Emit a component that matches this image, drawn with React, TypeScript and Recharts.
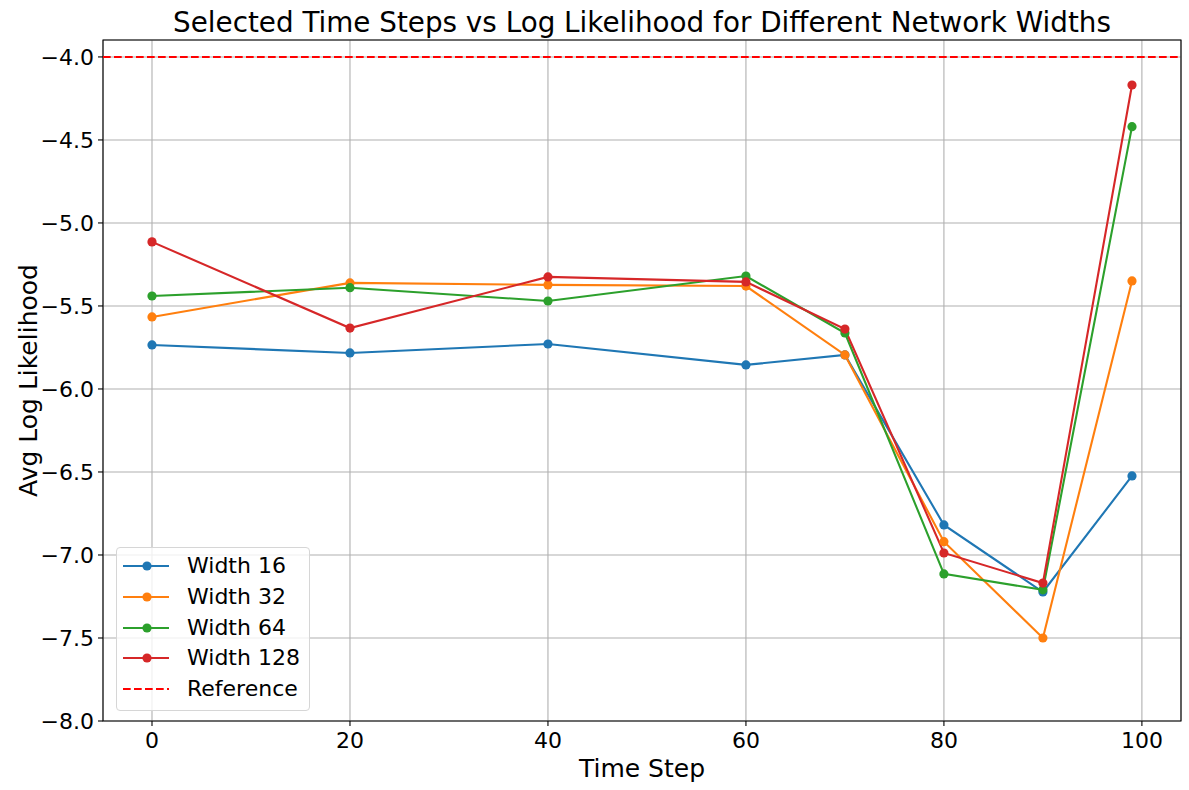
import { CartesianGrid, Line, LineChart, ReferenceArea, ReferenceLine, XAxis, YAxis } from "recharts";

const timeSteps = [0, 20, 40, 60, 70, 80, 90, 99];
const width16 = [-5.735, -5.783, -5.729, -5.855, -5.795, -6.819, -7.223, -6.524];
const width32 = [-5.566, -5.361, -5.373, -5.38, -5.795, -6.92, -7.5, -5.349];
const width64 = [-5.44, -5.39, -5.47, -5.32, -5.663, -7.114, -7.21, -4.42];
const width128 = [-5.114, -5.633, -5.325, -5.355, -5.639, -6.988, -7.169, -4.169];
const referenceValue = -4.0;

const xTicks = [0, 20, 40, 60, 80, 100];
const yTicks = [-8.0, -7.5, -7.0, -6.5, -6.0, -5.5, -5.0, -4.5, -4.0];

const series = [
  { key: "w16", name: "Width 16", color: "#1f77b4", values: width16 },
  { key: "w32", name: "Width 32", color: "#ff7f0e", values: width32 },
  { key: "w64", name: "Width 64", color: "#2ca02c", values: width64 },
  { key: "w128", name: "Width 128", color: "#d62728", values: width128 },
];

const data = timeSteps.map((t, i) => {
  const row: Record<string, number> = { t };
  series.forEach((s) => (row[s.key] = s.values[i]));
  return row;
});

const font = "DejaVu Sans, sans-serif";
const fmtY = (v: number) => v.toFixed(1).replace("-", "\u2212");

const LegendBox = () => (
  <div
    style={{
      position: "absolute",
      left: 116,
      top: 547,
      width: 192,
      height: 162,
      border: "1px solid #d6d6d6",
      borderRadius: 4,
      background: "rgba(255,255,255,0.8)",
      fontFamily: font,
      fontSize: 22,
      color: "#000",
    }}
  >
    {[...series.map((s) => ({ name: s.name, color: s.color, dash: false })), { name: "Reference", color: "#ff0000", dash: true }].map(
      (item, i) => (
        <div key={item.name} style={{ position: "absolute", left: 0, top: 6 + i * 30.8, height: 30, display: "flex", alignItems: "center" }}>
          <svg width={60} height={30} style={{ display: "block" }}>
            <line
              x1={6}
              x2={52}
              y1={12}
              y2={12}
              stroke={item.color}
              strokeWidth={2.1}
              strokeDasharray={item.dash ? "7.7 3.3" : undefined}
            />
            {!item.dash && <circle cx={30} cy={12} r={4.6} fill={item.color} />}
          </svg>
          <span style={{ marginLeft: 10, lineHeight: "24px", marginTop: -6 }}>{item.name}</span>
        </div>
      )
    )}
  </div>
);

export default function App() {
  return (
    <div style={{ position: "absolute", left: 0, top: 0, width: 1189, height: 790, background: "#fff" }}>
      <div
        style={{
          position: "absolute",
          left: 0,
          width: 1189,
          top: 6,
          textAlign: "center",
          fontFamily: font,
          fontSize: 27.8,
          paddingLeft: 95,
          boxSizing: "border-box",
        }}
      >
        Selected Time Steps vs Log Likelihood for Different Network Widths
      </div>
      <LineChart
        width={1189}
        height={790}
        data={data}
        margin={{ top: 40, right: 8, bottom: 0, left: 0 }}
        style={{ position: "absolute", left: 0, top: 0 }}
      >
        <CartesianGrid stroke="#b0b0b0" strokeWidth={1.1} />
        <XAxis
          dataKey="t"
          type="number"
          domain={[-4.95, 103.95]}
          ticks={xTicks}
          allowDataOverflow
          tickSize={5}
          tickLine={{ stroke: "#000", strokeWidth: 1.1 }}
          axisLine={false}
          tick={{ fill: "#000", fontSize: 22, fontFamily: font }}
          tickMargin={6}
          label={{ value: "Time Step", position: "insideBottom", offset: 13, fill: "#000", fontSize: 25, fontFamily: font }}
          height={69}
        />
        <YAxis
          type="number"
          domain={[-8, -3.898]}
          ticks={yTicks}
          allowDataOverflow
          tickFormatter={fmtY}
          width={103}
          tickSize={5}
          tickLine={{ stroke: "#000", strokeWidth: 1.1 }}
          axisLine={false}
          tick={{ fill: "#000", fontSize: 22, fontFamily: font }}
          tickMargin={4}
          label={{
            value: "Avg Log Likelihood",
            angle: -90,
            position: "insideLeft",
            offset: 28,
            style: { textAnchor: "middle" },
            fill: "#000",
            fontSize: 25,
            fontFamily: font,
          }}
        />
        <ReferenceLine y={referenceValue} stroke="#ff0000" strokeWidth={2.1} strokeDasharray="7.7 3.3" />
        {series.map((s) => (
          <Line
            key={s.key}
            dataKey={s.key}
            name={s.name}
            stroke={s.color}
            strokeWidth={2.1}
            dot={{ r: 4.6, fill: s.color, stroke: "none" }}
            activeDot={false}
            isAnimationActive={false}
          />
        ))}
        <ReferenceArea x1={-4.95} x2={103.95} y1={-8} y2={-3.898} fill="none" stroke="#000" strokeWidth={1.1} ifOverflow="visible" />
      </LineChart>
      <LegendBox />
    </div>
  );
}
